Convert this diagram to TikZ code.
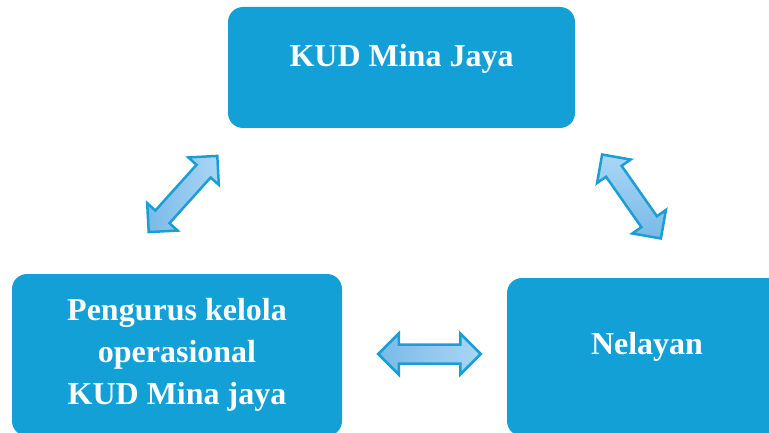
\documentclass[tikz,border=0pt]{standalone}
\usepackage{fontspec}
\setmainfont{Liberation Serif}
\definecolor{boxblue}{RGB}{19, 160, 214}
\definecolor{arrowline}{RGB}{26, 158, 214}
\definecolor{arrowdark}{RGB}{120, 186, 232}
\definecolor{arrowlight}{RGB}{170, 214, 245}
\usepackage{tikz}
\usetikzlibrary{shapes.arrows, positioning, calc}
\tikzset{
    orgbox/.style={rectangle, rounded corners=15pt, fill=boxblue, draw=none, text=white, align=center, font=\fontsize{32}{42}\selectfont\bfseries, inner sep=0pt},
    linkarrow/.style={double arrow, draw=arrowline, line width=2.5pt, left color=arrowdark, right color=arrowlight, minimum height=102.5pt, text height=8.25pt, text depth=8.25pt, text width=0pt, double arrow head extend=11pt, inner sep=0pt}
}
\begin{document}
\begin{tikzpicture}[x=1pt, y=-1pt]
        \useasboundingbox (0,0) rectangle (769,433);
        % Boxes
        \node[orgbox, minimum width=347pt, minimum height=121pt, text height=21pt, text depth=22pt] (kud) at (401.5, 67.5) {KUD Mina Jaya};
        \node[orgbox, minimum width=330pt, minimum height=162pt] (pengurus) at (177, 355) {Pengurus kelola\\operasional\\KUD Mina jaya};
        \node[orgbox, minimum width=280pt, minimum height=158pt, text height=21pt, text depth=27pt] (nelayan) at (647, 357) {Nelayan};

        % Double arrows between boxes
        \node[linkarrow, rotate=48] (a1) at (183, 194) {};
        \node[linkarrow, rotate=-55, top color=arrowlight, bottom color=arrowdark] (a2) at (631.5, 196.5) {};
        \node[linkarrow] (a3) at (429.5, 354) {};
    \end{tikzpicture}
\end{document}
